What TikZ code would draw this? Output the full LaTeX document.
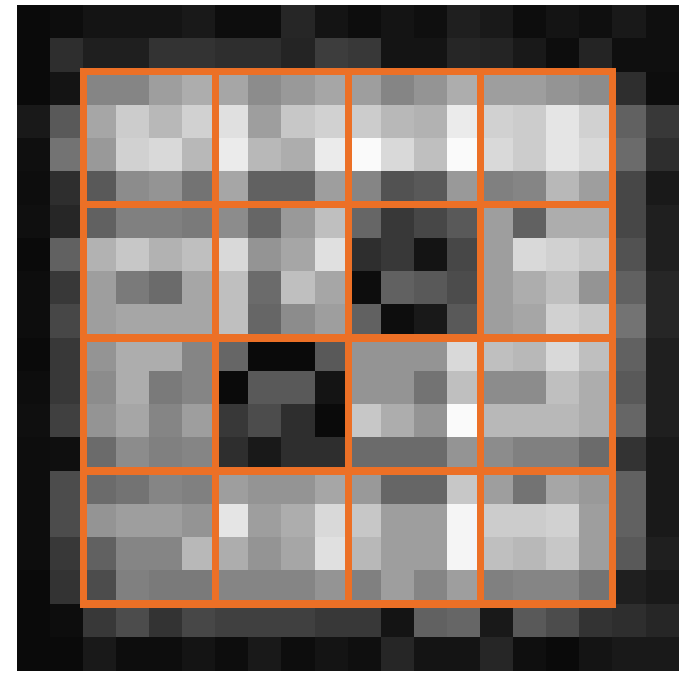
\documentclass[tikz,border=0pt]{standalone}
\usepackage{xcolor}
\usepackage{tikz}
\definecolor{gridorange}{RGB}{236,112,38}

\begin{document}
\begin{tikzpicture}[
    x=0.331cm, y=-0.3325cm,
    pixel/.style={line width=0.2pt},
    gridline/.style={draw=gridorange, line width=2pt, line cap=rect}
]

% page with white margin
\fill[white] (-0.514,-0.165) rectangle (20,20.05);
\useasboundingbox (-0.514,-0.165) rectangle (20,20.05);

% 20x20 grey levels, row by row (percent of white)
\foreach \row [count=\j from 0] in {%
    {4,5,8,8,8,10,5,5,15,8,5,8,6,12,10,5,8,6,10,6},%
    {4,18,12,12,20,20,18,18,14,24,22,8,8,15,14,10,5,14,6,6},%
    {4,8,52,52,62,68,65,55,60,65,62,52,58,68,62,62,58,55,18,5},%
    {10,35,65,80,72,82,88,62,78,82,80,72,70,92,82,80,90,82,38,22},%
    {6,45,60,82,85,72,92,72,68,92,98,85,75,98,85,80,90,85,42,18},%
    {5,18,35,55,58,45,65,38,38,62,52,32,35,60,50,52,72,62,28,10},%
    {6,15,38,50,50,48,55,40,60,75,40,22,28,35,62,38,68,68,28,12},%
    {4,38,70,78,70,75,85,58,65,88,18,22,8,28,62,85,82,78,32,12},%
    {5,22,62,48,42,65,75,42,75,65,5,38,35,30,62,68,75,58,38,15},%
    {5,28,62,65,65,65,75,40,55,62,38,5,10,35,62,65,82,78,45,15},%
    {4,22,58,68,68,52,40,4,4,35,58,58,58,85,75,72,85,75,38,12},%
    {5,22,55,68,48,52,4,35,35,8,58,58,45,75,55,55,75,68,35,12},%
    {6,25,58,65,52,62,22,30,18,4,78,68,58,98,72,72,72,68,40,12},%
    {5,6,42,55,50,52,18,10,18,18,42,42,42,58,55,50,50,42,20,10},%
    {5,30,42,45,52,50,62,58,58,65,60,40,40,78,62,45,65,60,38,10},%
    {5,30,58,62,62,58,90,62,68,85,78,62,62,96,80,80,82,62,38,10},%
    {5,22,38,52,52,72,68,58,65,88,72,62,62,96,75,72,78,62,35,12},%
    {4,20,30,50,48,48,52,52,52,58,50,62,52,62,50,52,52,45,12,10},%
    {4,5,22,30,20,28,25,25,25,22,22,8,38,40,10,35,30,20,18,15},%
    {4,4,10,5,5,8,5,10,5,8,6,15,8,8,15,6,4,8,10,10}%
}{
    \foreach \v [count=\i from 0] in \row {
        \filldraw[pixel, white!\v!black] (\i,\j) rectangle ++(1,1);
    }
}

% orange 4x4 grid
\foreach \k in {2,6,10,14,18} {
    \draw[gridline] (\k,2) -- (\k,18);
    \draw[gridline] (2,\k) -- (18,\k);
}
\end{tikzpicture}
\end{document}
